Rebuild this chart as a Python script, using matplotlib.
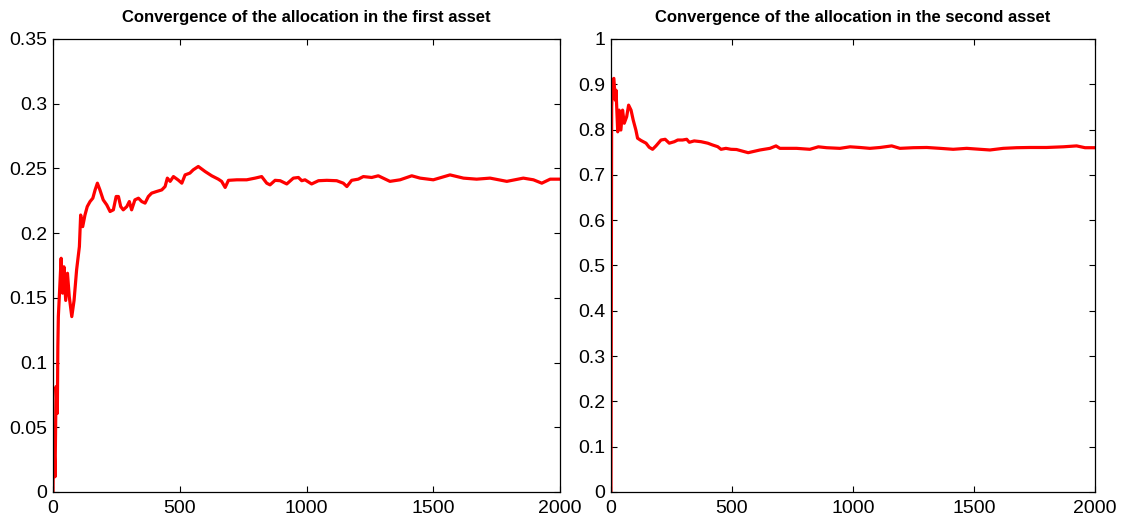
import matplotlib
matplotlib.use("Agg")
import matplotlib.pyplot as plt
from matplotlib.ticker import FormatStrFormatter

plt.rcParams['font.family'] = ['Liberation Sans', 'DejaVu Sans']

# --- data (iteration, allocation) ---
x_first = [0, 2, 8, 12, 17, 19, 21, 27, 32, 38, 43, 50, 57, 64, 74, 83, 93, 104,
           109, 117, 126, 135, 146, 157, 166, 175, 185, 198, 212, 225, 238, 249,
           258, 267, 277, 291, 301, 310, 323, 337, 350, 363, 376, 389, 409, 429,
           442, 451, 462, 475, 494, 508, 521, 540, 553, 573, 600, 626, 652, 665,
           679, 692, 725, 764, 797, 823, 843, 856, 876, 896, 922, 948, 968, 981,
           994, 1020, 1047, 1080, 1119, 1145, 1159, 1178, 1204, 1224, 1257, 1283,
           1329, 1369, 1415, 1448, 1500, 1566, 1619, 1671, 1724, 1790, 1855, 1895,
           1928, 1961, 2000]
y_first = [0.0, 0.0505, 0.0118, 0.0814, 0.0608, 0.112, 0.1355, 0.16, 0.1806,
           0.1536, 0.174, 0.148, 0.169, 0.151, 0.1355, 0.148, 0.1716, 0.1896,
           0.214, 0.205, 0.214, 0.2205, 0.2244, 0.227, 0.2334, 0.2386, 0.2334,
           0.2257, 0.2218, 0.2167, 0.218, 0.2283, 0.2283, 0.2205, 0.218, 0.2205,
           0.2244, 0.218, 0.2257, 0.227, 0.2244, 0.2232, 0.2283, 0.2309, 0.2322,
           0.2334, 0.236, 0.2425, 0.240, 0.2437, 0.241, 0.2386, 0.245, 0.2464,
           0.2489, 0.2515, 0.2476, 0.2443, 0.2417, 0.240, 0.2353, 0.2408, 0.2412,
           0.2412, 0.2425, 0.2437, 0.2386, 0.2373, 0.2408, 0.2405, 0.238, 0.2425,
           0.243, 0.2405, 0.2412, 0.238, 0.2405, 0.2408, 0.2405, 0.2386, 0.236,
           0.2408, 0.2417, 0.2437, 0.243, 0.2443,
           0.240, 0.2412, 0.2443, 0.2425, 0.2412, 0.245, 0.2425, 0.2417, 0.2425,
           0.240, 0.2425, 0.2412, 0.2386, 0.2417, 0.2417]

x_second = [0, 3, 7, 12, 18, 21, 28, 34, 41, 48, 55, 65, 73, 83, 92, 103, 110,
            124, 145, 158, 172, 186, 207, 224, 241, 262, 276, 296, 313, 324, 344,
            372, 400, 420, 441, 455, 475, 496,
            519, 567, 616, 657, 682, 698, 767, 822, 857, 891, 946, 988, 1029,
            1070, 1112, 1160, 1194, 1249, 1305, 1360, 1414, 1470, 1525, 1566,
            1621, 1676, 1731, 1800, 1869, 1924, 1959, 2000]
y_second = [0.0, 0.85, 0.9095, 0.913, 0.865, 0.887, 0.795, 0.843, 0.799, 0.843,
            0.814, 0.8285, 0.854, 0.843, 0.821, 0.799, 0.781, 0.776, 0.770,
            0.761, 0.7565, 0.764, 0.777, 0.7786, 0.770, 0.7733, 0.777, 0.777,
            0.7786, 0.772, 0.775, 0.7733, 0.770, 0.766, 0.7623, 0.7565, 0.7586,
            0.7565,
            0.756, 0.749, 0.755, 0.7586, 0.764, 0.7586, 0.7586, 0.7565, 0.762,
            0.760, 0.7586, 0.762, 0.7605, 0.7586, 0.7605, 0.764, 0.7586, 0.760,
            0.7605, 0.7586, 0.7565, 0.7586, 0.7565, 0.755, 0.7586, 0.760, 0.7605,
            0.7605, 0.762, 0.764, 0.760, 0.760]

titles = ['Convergence of the allocation in the first asset',
          'Convergence of the allocation in the second asset']
x_ticks = [0, 500, 1000, 1500, 2000]
y_ticks_first = [0, 0.05, 0.1, 0.15, 0.2, 0.25, 0.3, 0.35]
y_ticks_second = [0, 0.1, 0.2, 0.3, 0.4, 0.5, 0.6, 0.7, 0.8, 0.9, 1]

fig = plt.figure(figsize=(11.21, 5.22), dpi=100)
ax1 = fig.add_axes([0.0473, 0.0575, 0.4523, 0.8678])
ax2 = fig.add_axes([0.5450, 0.0575, 0.4318, 0.8678])

panels = [(ax1, x_first, y_first, y_ticks_first, 0.35, titles[0]),
          (ax2, x_second, y_second, y_ticks_second, 1, titles[1])]

for ax, xs, ys, yt, ymax, title in panels:
    ax.plot(xs, ys, color='red', linewidth=2.3)
    ax.set_xlim(0, 2000)
    ax.set_ylim(0, ymax)
    ax.set_xticks(x_ticks)
    ax.set_yticks(yt)
    ax.yaxis.set_major_formatter(FormatStrFormatter('%g'))
    ax.tick_params(direction='in', length=4, width=0.8, labelsize=14,
                   top=True, right=True)
    ax.tick_params(axis='x', pad=6)
    ax.tick_params(axis='y', pad=4)
    for s in ax.spines.values():
        s.set_linewidth(0.9)
    ax.set_title(title, fontsize=12, fontweight='bold', pad=12)

fig.savefig('out.png', dpi=100)
